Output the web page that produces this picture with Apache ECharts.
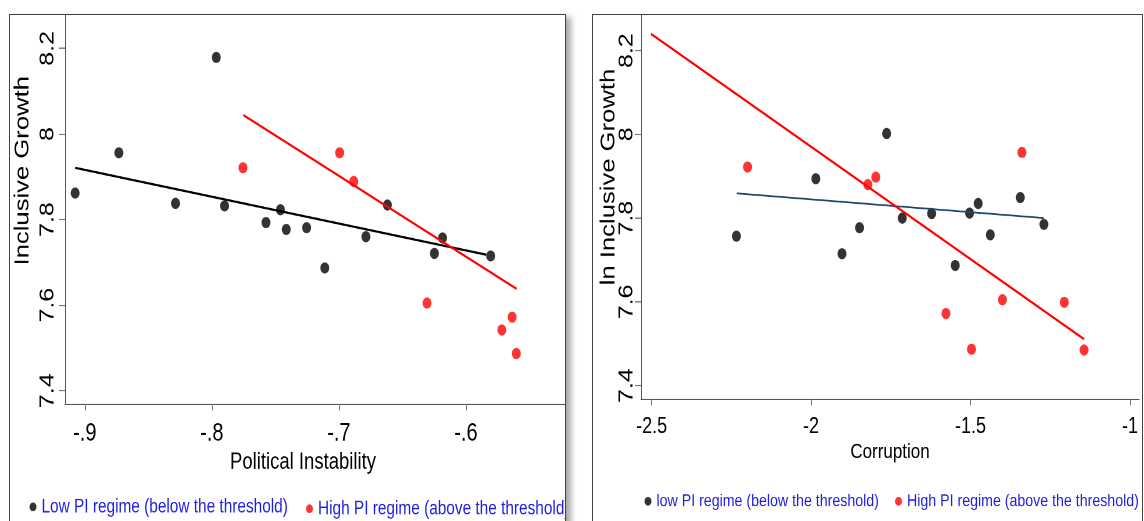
<!DOCTYPE html>
<html><head><meta charset="utf-8">
<script src="https://cdn.jsdelivr.net/npm/echarts@6/dist/echarts.min.js"></script>
<style>
html,body{margin:0;padding:0;background:#fff;width:1144px;height:521px;overflow:hidden;}
.panel{position:absolute;box-sizing:border-box;border:1px solid #444;background:#fff;overflow:hidden;}
#left{left:9px;top:14px;width:557px;height:520px;box-shadow:5px 3px 6px rgba(0,0,0,0.35);}
#right{left:592px;top:14px;width:551px;height:520px;}
.chart{position:absolute;left:0;top:0;height:416px;transform:scaleY(1.25);transform-origin:0 0;}
#leftChart{width:555px;}
#rightChart{width:549px;}
</style></head><body>
<div id="left" class="panel"><div id="leftChart" class="chart"></div></div>
<div id="right" class="panel"><div id="rightChart" class="chart"></div></div>
<script>
// ---- Left panel: Political Instability ----
var piLowX  = [-0.9076, -0.8732, -0.7965, -0.8286, -0.7900, -0.7574, -0.7460, -0.7414, -0.7254, -0.7111, -0.6787, -0.6618, -0.6248, -0.6184, -0.5805];
var piLowY  = [7.862, 7.956, 8.179, 7.838, 7.832, 7.793, 7.823, 7.777, 7.781, 7.687, 7.760, 7.834, 7.721, 7.757, 7.715];
var piHighX = [-0.7755, -0.6994, -0.6883, -0.6306, -0.5636, -0.5717, -0.5603];
var piHighY = [7.921, 7.956, 7.889, 7.605, 7.572, 7.542, 7.487];
var piLowFitX  = [-0.9076, -0.5840];
var piLowFitY  = [7.921, 7.718];
var piHighFitX = [-0.7752, -0.5601];
var piHighFitY = [8.044, 7.638];
var piXTicks = [-0.9, -0.8, -0.7, -0.6];
var piYTicks = [7.4, 7.6, 7.8, 8, 8.2];

// ---- Right panel: Corruption ----
var corLowX  = [-2.234, -1.985, -1.903, -1.848, -1.763, -1.714, -1.622, -1.548, -1.503, -1.476, -1.438, -1.344, -1.270];
var corLowY  = [7.757, 7.894, 7.715, 7.777, 8.002, 7.800, 7.811, 7.687, 7.812, 7.835, 7.760, 7.849, 7.785];
var corHighX = [-2.199, -1.822, -1.797, -1.577, -1.497, -1.400, -1.339, -1.206, -1.144];
var corHighY = [7.922, 7.880, 7.898, 7.572, 7.487, 7.605, 7.957, 7.599, 7.485];
var corLowFitX  = [-2.233, -1.270];
var corLowFitY  = [7.859, 7.800];
var corHighFitX = [-2.502, -1.144];
var corHighFitY = [8.240, 7.511];
var corXTicks = [-2.5, -2, -1.5, -1];
var corYTicks = [7.4, 7.6, 7.8, 8, 8.2];

var leftLegend  = ['Low PI regime (below the threshold)', 'High PI regime (above the threshold)'];
var rightLegend = ['low PI regime (below the threshold)', 'High PI regime (above the threshold)'];

function zip(xs, ys) { return xs.map(function (x, i) { return [x, ys[i]]; }); }

var FONT = "'Liberation Sans', Arial, sans-serif";

function legendItem(name, left, top, size) {
  return {
    data: [name], left: left, top: top, orient: 'horizontal',
    itemWidth: 7, itemHeight: 8, icon: 'circle', selectedMode: false,
    textStyle: { color: '#1f1fe0', fontFamily: FONT, fontSize: size }
  };
}

function build(c) {
  return {
    animation: false,
    grid: { left: c.gl, top: 0, width: c.gw, height: c.gh, containLabel: false, outerBoundsMode: 'none' },
    legend: [
      legendItem(c.legend[0], c.lg1Left, c.lg1Top, c.lgSize),
      legendItem(c.legend[1], c.lg2Left, c.lg2Top, c.lgSize)
    ],
    xAxis: {
      type: 'value', min: c.xmin, max: c.xmax,
      name: c.xname, nameLocation: 'middle', nameGap: c.xnameGap, nameMoveOverlap: false,
      nameTextStyle: { color: '#000', fontFamily: FONT, fontSize: c.xnameSize, padding: c.xnamePad },
      axisLine: { show: true, onZero: false, lineStyle: { color: '#555', width: 1 } },
      axisTick: { show: true, length: 5, customValues: c.xticks, lineStyle: { color: '#777' } },
      axisLabel: { customValues: c.xticks, color: '#000', fontFamily: FONT, fontSize: c.xlabSize, margin: c.xlabMargin,
        formatter: function (v) { return c.fmtX(v); } },
      splitLine: { show: false }
    },
    yAxis: {
      type: 'value', min: c.ymin, max: c.ymax,
      name: c.yname, nameLocation: 'middle', nameGap: c.ynameGap, nameRotate: 90, nameMoveOverlap: false,
      nameTextStyle: { color: '#000', fontFamily: FONT, fontSize: 20.5, padding: c.ynamePad },
      axisLine: { show: true, onZero: false, lineStyle: { color: '#555', width: 1 } },
      axisTick: { show: true, length: 6, customValues: c.yticks, lineStyle: { color: '#777' } },
      axisLabel: { customValues: c.yticks, rotate: 90, color: '#000', fontFamily: FONT, fontSize: 20, margin: c.ylabMargin,
        formatter: function (v) { return String(Math.round(v * 10) / 10); } },
      splitLine: { show: false }
    },
    series: [
      { type: 'scatter', name: c.legend[0], data: zip(c.lowX, c.lowY), symbol: 'circle', symbolSize: 9, itemStyle: { color: '#000' }, z: 2 },
      { type: 'scatter', name: c.legend[1], data: zip(c.highX, c.highY), symbol: 'circle', symbolSize: 9, itemStyle: { color: '#ff0000' }, z: 2 },
      { type: 'line', name: 'lowfit', data: zip(c.lowFitX, c.lowFitY), symbol: 'none', lineStyle: { color: c.lowFitColor, width: c.lowFitWidth }, z: 3 },
      { type: 'line', name: 'highfit', data: zip(c.highFitX, c.highFitY), symbol: 'none', lineStyle: { color: '#ff0000', width: 1.8 }, z: 3 }
    ]
  };
}

var left = echarts.init(document.getElementById('leftChart'), null, { devicePixelRatio: 2 });
left.setOption(build({
  gl: 55, gw: 501, gh: 311.2,
  xmin: -0.9156, xmax: -0.5212, ymin: 7.369, ymax: 8.278,
  xticks: piXTicks, yticks: piYTicks,
  fmtX: function (v) { return String(Math.round(v * 10) / 10).replace('0.', '.'); },
  xname: 'Political Instability', xnameGap: 37, xnameSize: 18.5, xnamePad: [0, 25, 0, 0],
  xlabSize: 20, xlabMargin: 14,
  yname: 'Inclusive Growth', ynameGap: 31.5, ynamePad: [0, 0, 0, 62], ylabMargin: 7,
  legend: leftLegend, lg1Left: 14.5, lg1Top: 381, lg2Left: 291, lg2Top: 382.5, lgSize: 15.4,
  lowX: piLowX, lowY: piLowY, highX: piHighX, highY: piHighY,
  lowFitX: piLowFitX, lowFitY: piLowFitY, highFitX: piHighFitX, highFitY: piHighFitY,
  lowFitColor: '#000', lowFitWidth: 1.8
}));

var right = echarts.init(document.getElementById('rightChart'), null, { devicePixelRatio: 2 });
right.setOption(build({
  gl: 48, gw: 498, gh: 307.2,
  xmin: -2.5332, xmax: -0.9718, ymin: 7.368, ymax: 8.285,
  xticks: corXTicks, yticks: corYTicks,
  fmtX: function (v) { return String(Math.round(v * 10) / 10); },
  xname: 'Corruption', xnameGap: 34, xnameSize: 17, xnamePad: [0, 0, 0, 0],
  xlabSize: 18, xlabMargin: 13.5,
  yname: 'ln Inclusive Growth', ynameGap: 21.5, ynamePad: [0, 0, 0, 48], ylabMargin: 4,
  legend: rightLegend, lg1Left: 46.5, lg1Top: 377, lg2Left: 297, lg2Top: 377, lgSize: 14.2,
  lowX: corLowX, lowY: corLowY, highX: corHighX, highY: corHighY,
  lowFitX: corLowFitX, lowFitY: corLowFitY, highFitX: corHighFitX, highFitY: corHighFitY,
  lowFitColor: '#1a476f', lowFitWidth: 1.4
}));
</script>
</body></html>
